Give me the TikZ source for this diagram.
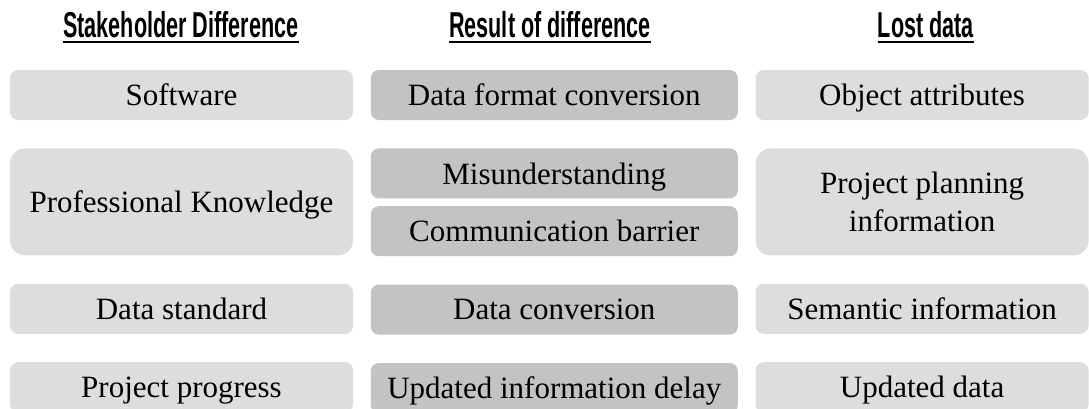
\documentclass[tikz,border=0pt]{standalone}
\usepackage{fontspec}
\setmainfont{Liberation Serif}
\newfontfamily\headfont[FakeStretch=0.6]{Liberation Sans}
\usepackage{tikz}
\usetikzlibrary{positioning}
\definecolor{palegray}{RGB}{221,221,221}
\definecolor{midgray}{RGB}{195,195,195}

\begin{document}
\begin{tikzpicture}[
  x=0.5pt, y=-0.5pt,
  node distance=13.8pt and 8.5pt,
  cell/.style={rounded corners=4pt, align=center, minimum height=25pt,
               inner sep=2pt, text depth=0pt, font=\fontsize{15.5}{19}\selectfont},
  lcell/.style={cell, fill=palegray, minimum width=171.5pt},
  mcell/.style={cell, fill=midgray, minimum width=183.5pt},
  rcell/.style={cell, fill=palegray, minimum width=166.5pt},
  tall/.style={minimum height=53.5pt, rounded corners=7.5pt},
  head/.style={inner sep=0pt, anchor=base, font=\headfont\bfseries\fontsize{18}{20}\selectfont},
  uline/.style={line width=0.8pt}]
\clip (0,0) rectangle (1089,408);
% column headings
\node[head] (hstake) at (181,37) {Stakeholder Difference};
\node[head] (hresult) at (550,37) {Result of difference};
\node[head] (hlost) at (926,37) {Lost data};
\draw[uline] ([yshift=-2.5pt]hstake.base west) -- ([yshift=-2.5pt]hstake.base east);
\draw[uline] ([yshift=-2.5pt]hresult.base west) -- ([yshift=-2.5pt]hresult.base east);
\draw[uline] ([yshift=-2.5pt]hlost.base west) -- ([yshift=-2.5pt]hlost.base east);
% rows
\node[lcell] (soft) at (181.5,95) {Software};
\node[mcell, right=of soft] (dfconv) {Data format conversion};
\node[rcell, right=of dfconv] (objattr) {Object attributes};
\node[lcell, tall, below=of soft] (prof) {Professional Knowledge};
\node[mcell, below=of dfconv] (misund) {Misunderstanding};
\node[mcell, below=3.5pt of misund] (commbar) {Communication barrier};
\node[rcell, tall, below=of objattr] (plan) {Project planning\\information};
\node[lcell, below=of prof] (dstd) {Data standard};
\node[mcell, below=of commbar] (dconv) {Data conversion};
\node[rcell, below=of plan] (seman) {Semantic information};
\node[lcell, below=of dstd] (progr) {Project progress};
\node[mcell, below=of dconv] (delay) {Updated information delay};
\node[rcell, below=of seman] (upd) {Updated data};
\end{tikzpicture}
\end{document}
